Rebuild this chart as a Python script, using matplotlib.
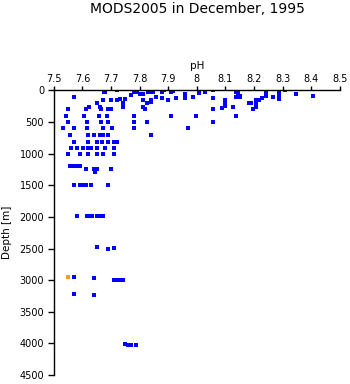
#MODS2005 pH profile scatter, December 1995
import numpy as np
import matplotlib
matplotlib.use('Agg')
import matplotlib.pyplot as plt

plt.rcParams['font.family'] = ['DejaVu Sans']

#pH and depth of each station sample (blue)
ph = [7.675, 7.68, 7.72, 7.78, 7.79, 7.77, 7.80, 7.81, 7.83, 7.84,
      7.57, 7.673, 7.70, 7.72, 7.73, 7.74, 7.75, 7.74, 7.74, 7.652,
      7.661, 7.622, 7.813, 7.81, 7.838, 7.827,
      7.551, 7.614, 7.663, 7.69, 7.70, 7.82,
      7.541, 7.605, 7.657, 7.687, 7.78,
      7.551, 7.617, 7.663, 7.69, 7.78, 7.824,
      7.533, 7.572, 7.617, 7.671, 7.704, 7.78,
      7.558, 7.62, 7.64, 7.66, 7.67, 7.69, 7.838,
      7.57, 7.62, 7.652, 7.669, 7.69, 7.71, 7.72,
      7.56, 7.58, 7.603, 7.62, 7.63, 7.652, 7.68, 7.71,
      7.55, 7.593, 7.62, 7.652, 7.673, 7.71,
      7.558, 7.566, 7.576, 7.593, 7.612, 7.64, 7.652, 7.642, 7.70,
      7.57, 7.591, 7.60, 7.611, 7.63, 7.69,
      7.582, 7.617, 7.624, 7.632, 7.65, 7.657, 7.663, 7.673,
      7.649, 7.689, 7.71,
      7.57, 7.64, 7.71, 7.72, 7.73, 7.743,
      7.57, 7.64, 7.747, 7.76, 7.77, 7.786,
      7.846, 7.834, 7.846, 7.857, 7.84, 7.878, 7.886, 7.878, 7.898,
      7.91, 7.918, 7.927, 7.957, 7.957, 7.988, 8.007, 8.027, 8.058,
      8.058, 8.056, 8.056, 8.097, 8.088, 8.126, 8.137, 8.143, 8.137,
      8.182, 7.91, 7.997, 8.137, 7.968, 7.84,
      8.188, 8.196, 8.208, 8.208, 8.208, 8.216, 8.228, 8.24, 8.24,
      8.266, 8.287, 8.287, 8.287, 8.287, 8.307, 8.348, 8.406,
      8.097, 8.097, 8.143, 8.15, 8.15]
depth = [30, 30, 0, 20, 20, 75, 60, 60, 20, 20,
         105, 150, 150, 150, 130, 205, 130, 230, 260, 205,
         260, 260, 150, 260, 150, 205,
         295, 295, 295, 295, 295, 295,
         410, 410, 410, 410, 410,
         505, 505, 505, 505, 505, 505,
         600, 600, 600, 600, 600, 600,
         705, 705, 705, 705, 705, 705, 705,
         810, 810, 810, 810, 810, 810, 810,
         905, 905, 905, 905, 905, 905, 905, 905,
         1005, 1005, 1005, 1005, 1005, 1005,
         1195, 1195, 1195, 1195, 1241, 1241, 1241, 1283, 1241,
         1493, 1493, 1493, 1493, 1493, 1493,
         1985, 1993, 1993, 1993, 1993, 1993, 1993, 1983,
         2476, 2503, 2497,
         2955, 2965, 2992, 2992, 2992, 2992,
         3218, 3229, 4015, 4030, 4025, 4023,
         10, 30, 30, 100, 180, 20, 0, 126, 152,
         20, 5, 116, 63, 126, 110, 47, 20, 0,
         126, 295, 505, 152, 284, 258, 20, 47, 110,
         205, 405, 405, 405, 600, 705,
         205, 300, 150, 205, 260, 152, 126, 20, 90,
         110, 0, 45, 90, 137, 0, 58, 90,
         200, 250, 60, 80, 100]

#odd sample (orange)
ph_odd = [7.551]
depth_odd = [2955]

xticks = [7.5, 7.6, 7.7, 7.8, 7.9, 8.0, 8.1, 8.2, 8.3, 8.4, 8.5]
xtick_labels = ['7.5', '7.6', '7.7', '7.8', '7.9', '8', '8.1', '8.2', '8.3', '8.4', '8.5']
yticks = np.arange(0, 4501, 500)

fig = plt.figure(figsize=(3.5, 3.84), dpi=100)
ax = fig.add_axes([0.154, 0.0234, 0.817, 0.741])

ax.plot(ph, depth, 's', color='#0000ff', markersize=2.2, markeredgewidth=0)
ax.plot(ph_odd, depth_odd, 's', color='#f0a020', markersize=2.4, markeredgewidth=0)

ax.set_xlim(7.5, 8.5)
ax.set_ylim(4500, 0)
ax.set_xticks(xticks)
ax.set_xticklabels(xtick_labels)
ax.set_yticks(yticks)

ax.xaxis.tick_top()
ax.xaxis.set_label_position('top')
ax.spines['bottom'].set_visible(False)
ax.spines['right'].set_visible(False)
ax.spines['top'].set_linewidth(1.0)
ax.spines['left'].set_linewidth(1.0)
ax.tick_params(axis='x', length=3, width=1, pad=2, labelsize=7)
ax.tick_params(axis='y', length=4, width=1, pad=3, labelsize=7)

ax.set_xlabel('pH', fontsize=7.5, labelpad=3)
ax.set_ylabel('Depth [m]', fontsize=7.5, labelpad=5)

fig.text(0.563, 0.977, 'MODS2005 in December, 1995', ha='center', va='center', fontsize=10)

plt.savefig('out.png', dpi=100)
